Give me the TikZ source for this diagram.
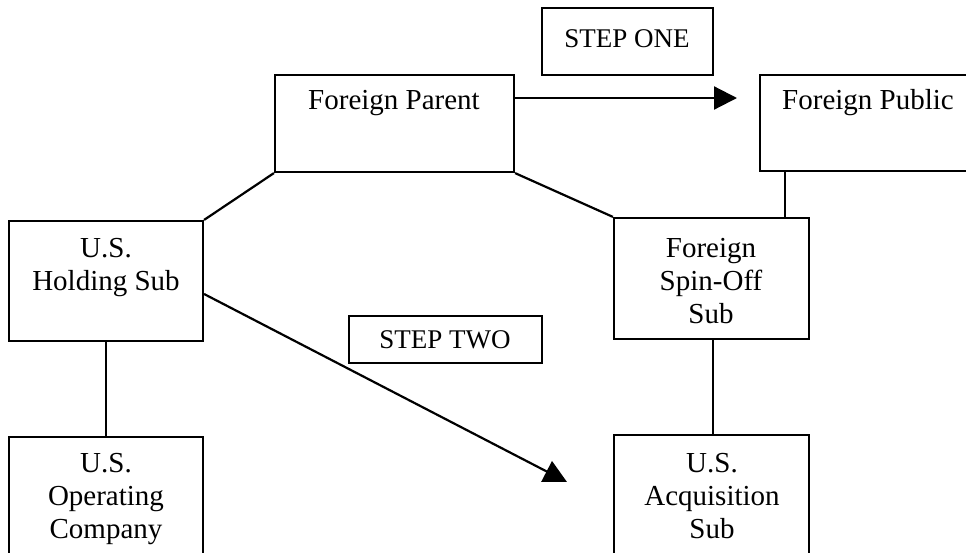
\documentclass[tikz,border=0pt]{standalone}
\usepackage{fontspec}
\setmainfont{Liberation Serif}
\usetikzlibrary{arrows.meta}
\begin{document}
\begin{tikzpicture}[x=1pt,y=-1pt,
  box/.style={draw, line width=2.2pt, inner sep=0pt, fill=none},
  txt/.style={font=\fontsize{29}{33}\selectfont, align=center, inner sep=0pt},
  steptxt/.style={font=\fontsize{27}{31}\selectfont, align=center, inner sep=0pt},
  conn/.style={line width=2.2pt},
  arr/.style={line width=2.2pt, -{Triangle[length=23pt,width=23pt]}}]
\useasboundingbox (0,0) rectangle (966,552);
\fill[white] (0,0) rectangle (966,552);
\clip (0,0) rectangle (966,552);
% boxes
\node[box, minimum width=171pt, minimum height=67pt] (stepone) at (627.5,41.5) {};
\node[box, minimum width=239pt, minimum height=97pt] (fparent) at (394.5,123.5) {};
\node[box, minimum width=216pt, minimum height=96pt] (fpublic) at (868,123) {};
\node[box, minimum width=194pt, minimum height=120pt] (holding) at (106,281) {};
\node[box, minimum width=195pt, minimum height=121pt] (spinoff) at (711.5,278.5) {};
\node[box, minimum width=193pt, minimum height=47pt] (steptwo) at (445.5,339.5) {};
\node[box, minimum width=194pt, minimum height=126pt] (operating) at (106,500) {};
\node[box, minimum width=195pt, minimum height=126pt] (acquisition) at (711.5,498) {};
% texts
\node[steptxt] (stepone-t) at (627,39) {STEP ONE};
\node[txt] (fparent-t) at (394,103) {Foreign Parent};
\node[txt] (fpublic-t) at (868,103) {Foreign Public};
\node[txt] (holding-t) at (106,268) {U.S.\\Holding Sub};
\node[txt] (spinoff-t) at (711,281) {Foreign\\Spin-Off\\Sub};
\node[steptxt] (steptwo-t) at (445,340) {STEP TWO};
\node[txt] (operating-t) at (106,499) {U.S.\\Operating\\Company};
\node[txt] (acquisition-t) at (712,496) {U.S.\\Acquisition\\Sub};
% connectors
\draw[conn] (fparent.south west) -- (holding.north east);
\draw[conn] (fparent.south east) -- (spinoff.north west);
\draw[conn] (holding.south) -- (operating.north);
\draw[conn] ([xshift=1.5pt]spinoff.south) -- ([xshift=1.5pt]acquisition.north);
\coordinate (vpub) at (785,0);
\draw[conn] (fpublic.south -| vpub) -- (spinoff.north -| vpub);
\coordinate (tip1) at (737,98);
\draw[arr] (fparent.east |- tip1) -- (tip1);
\coordinate (tip2) at (567,482);
\draw[arr] ([yshift=-13pt]holding.east) -- (tip2);
\end{tikzpicture}
\end{document}
